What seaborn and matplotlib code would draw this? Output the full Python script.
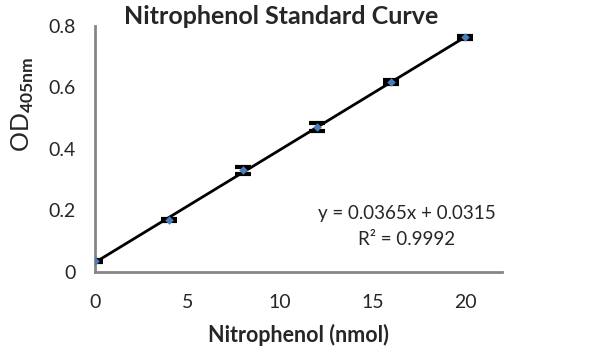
import numpy as np
import matplotlib
matplotlib.use("Agg")
import matplotlib.pyplot as plt
import seaborn as sns
import pandas as pd

# Data
nitrophenol = [0, 4, 8, 12, 16, 20]
od405 = [0.035, 0.168, 0.330, 0.470, 0.618, 0.763]
od_err = [0.002, 0.003, 0.012, 0.013, 0.006, 0.005]
x_ticks = [0, 5, 10, 15, 20]
y_ticks = [0, 0.2, 0.4, 0.6, 0.8]
y_tick_labels = ["0", "0.2", "0.4", "0.6", "0.8"]
equation = "y = 0.0365x + 0.0315"
r_squared = "R² = 0.9992"

df = pd.DataFrame({"x": nitrophenol, "y": od405, "err": od_err})

sns.set_style("white")
plt.rcParams["font.family"] = ["Lato", "DejaVu Sans"]
plt.rcParams["mathtext.fontset"] = "custom"
plt.rcParams["mathtext.rm"] = "Lato"
plt.rcParams["mathtext.bf"] = "Lato:bold"

fig = plt.figure(figsize=(6.14, 3.54), dpi=100)
ax = fig.add_axes([0.155, 0.232, 0.663, 0.695])

axis_grey = "#868686"

#Trendline (linear fit through the points).
sns.regplot(data=df, x="x", y="y", scatter=False, ci=None, truncate=True,
            line_kws={"color": "black", "lw": 2.0, "zorder": 2}, ax=ax)

#Error bars with wide caps.
ax.errorbar(df["x"], df["y"], yerr=df["err"], fmt="none", ecolor="black",
            elinewidth=1.6, capsize=6, capthick=3, zorder=3)

#Markers.
sns.scatterplot(data=df, x="x", y="y", marker="D", s=16, color="#4a7ebb",
                edgecolor="#4a7ebb", zorder=4, ax=ax)

ax.set_xlim(0, 22)
ax.set_ylim(0, 0.8)
ax.set_xticks(x_ticks)
ax.set_yticks(y_ticks)
ax.set_yticklabels(y_tick_labels)
ax.tick_params(axis="both", labelsize=14, length=6, width=2, color=axis_grey,
               direction="out", pad=8)
ax.tick_params(axis="x", pad=10)

for side in ["top", "right"]:
    ax.spines[side].set_visible(False)
for side in ["left", "bottom"]:
    ax.spines[side].set_color(axis_grey)
    ax.spines[side].set_linewidth(2)

ax.set_xlabel("Nitrophenol (nmol)", fontsize=15.5, fontweight="bold", labelpad=9)
ax.set_ylabel(r"OD$_{\mathbf{405nm}}$", fontsize=18)
ax.yaxis.set_label_coords(-0.145, 0.68)

fig.text(0.458, 0.952, "Nitrophenol Standard Curve", fontsize=18,
         fontweight="bold", ha="center", va="center")

ax.text(16.85, 0.189, equation, fontsize=13.5, ha="center", va="center")
ax.text(16.85, 0.106, r_squared, fontsize=13.5, ha="center", va="center")

fig.savefig("out.png", dpi=100)
